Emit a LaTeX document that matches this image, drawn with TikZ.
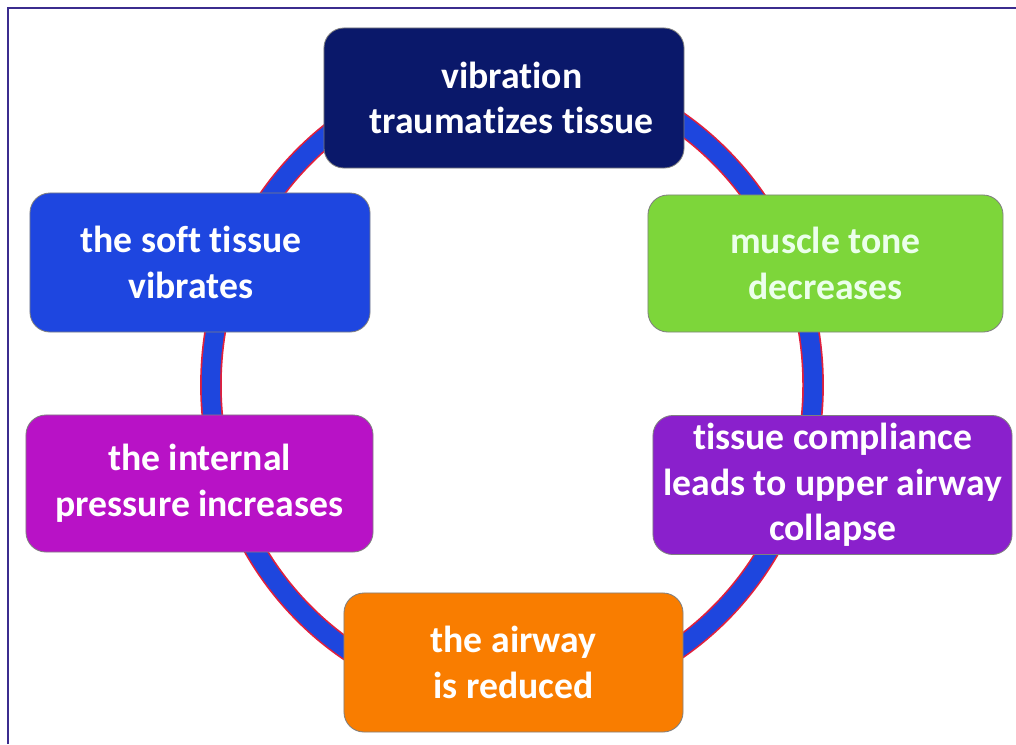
\documentclass[tikz,border=0pt]{standalone}
\usepackage{fontspec}
\setmainfont[Ligatures={NoCommon}]{Carlito}
\usepackage{xcolor}
\usetikzlibrary{positioning}

\definecolor{framecol}{HTML}{3B2C8E}
\definecolor{ringred}{HTML}{E0203C}
\definecolor{ringblue}{HTML}{1E46DE}
\definecolor{navybox}{HTML}{0A186A}
\definecolor{bluebox}{HTML}{1E46E0}
\definecolor{greenbox}{HTML}{7DD63A}
\definecolor{magentabox}{HTML}{B812C6}
\definecolor{purplebox}{HTML}{8A20CC}
\definecolor{orangebox}{HTML}{F97D00}

\begin{document}
\begin{tikzpicture}[x=0.025cm, y=-0.025cm,
  cyclebox/.style={rounded corners=0.5cm, draw=black!50, line width=0.6pt,
    text=white, align=center, inner sep=0pt,
    font=\fontsize{26.8}{32.5}\selectfont\bfseries}]
  \useasboundingbox (0,0) rectangle (1016,744);
  % frame: top and left edge only
  \draw[framecol, line width=1.4pt] (8,744) -- (8,8) -- (1016,8);
  % ring behind the boxes
  \draw[ringred, line width=15.4pt] (512,385) ellipse [x radius=7.525cm, y radius=7.9cm];
  \draw[ringblue, line width=13pt] (512,385) ellipse [x radius=7.525cm, y radius=7.9cm];
  % the six boxes, clockwise from the top
  \node[cyclebox, fill=navybox, minimum width=9cm, minimum height=3.5cm] (vib) at (504,98)
    {\kern11pt vibration\\\kern11pt traumatizes tissue};
  \node[cyclebox, fill=greenbox, text=white!92!green, minimum width=8.875cm, minimum height=3.425cm] (muscle) at (825.5,263.5)
    {muscle tone\\decreases};
  \node[cyclebox, fill=purplebox, minimum width=8.975cm, minimum height=3.475cm] (compl) at (832.5,485)
    {tissue compliance\\leads to upper airway\\collapse};
  \node[cyclebox, fill=orangebox, minimum width=8.475cm, minimum height=3.475cm] (airway) at (513.5,662.5)
    {the airway\\is reduced};
  \node[cyclebox, fill=magentabox, minimum width=8.675cm, minimum height=3.425cm] (press) at (199.5,483.5)
    {the internal\\pressure increases};
  \node[cyclebox, fill=bluebox, minimum width=8.5cm, minimum height=3.475cm] (soft) at (200,262.5)
    {the soft tissue\kern13pt\\vibrates\kern13pt};
\end{tikzpicture}
\end{document}
